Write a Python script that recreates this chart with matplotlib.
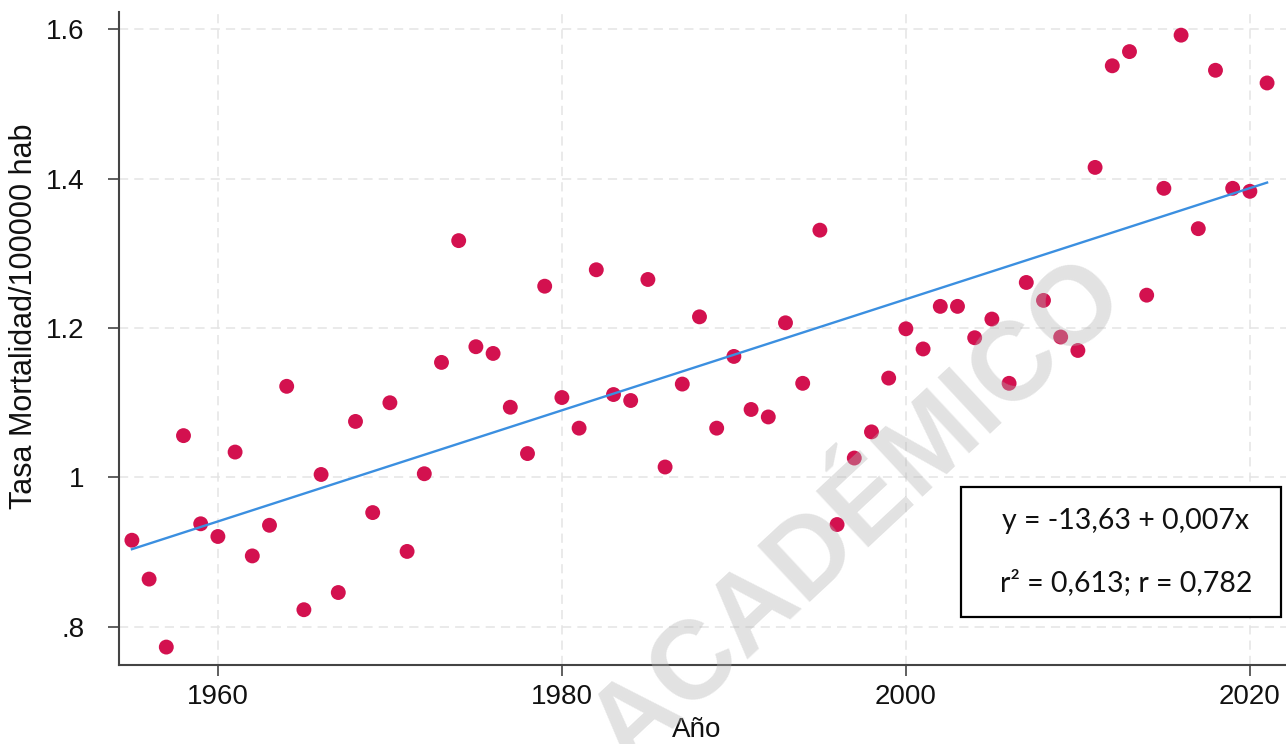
import numpy as np
import matplotlib
matplotlib.use("Agg")
import matplotlib.pyplot as plt
from matplotlib.patches import Rectangle

years = list(range(1955, 2022))
tasa = [0.916, 0.864, 0.773, 1.056, 0.938, 0.921, 1.034, 0.895, 0.936, 1.122,
        0.823, 1.004, 0.846, 1.075, 0.953, 1.100, 0.901, 1.005, 1.154, 1.317,
        1.175, 1.166, 1.094, 1.032, 1.256, 1.107, 1.066, 1.278, 1.111, 1.103,
        1.265, 1.014, 1.125, 1.215, 1.066, 1.162, 1.091, 1.081, 1.207, 1.126,
        1.331, 0.937, 1.026, 1.061, 1.133, 1.199, 1.172, 1.229, 1.229, 1.187,
        1.212, 1.126, 1.261, 1.237, 1.188, 1.170, 1.415, 1.551, 1.570, 1.244,
        1.387, 1.592, 1.333, 1.545, 1.387, 1.383, 1.528]

xticks = [1960, 1980, 2000, 2020]
yticks = [0.8, 1.0, 1.2, 1.4, 1.6]
yticklabels = [".8", "1", "1.2", "1.4", "1.6"]

eq_text = "y = -13,63 + 0,007x"
r_text = "r\u00b2 = 0,613; r = 0,782"

W, H = 1286, 744
fig = plt.figure(figsize=(W / 100, H / 100), dpi=100)
fig.patch.set_facecolor("white")
ax = fig.add_axes([119 / W, (H - 665) / H, (W - 119) / W, (665 - 12) / H])

x = np.array(years, dtype=float)
y = np.array(tasa)
slope, intercept = np.polyfit(x, y, 1)
xl = np.array([x.min(), x.max()])

ax.grid(True, color="#e4e4e4", linestyle=(0, (6, 4)), linewidth=1.1, zorder=0)
ax.scatter(x, y, s=115, color="#d3114f", edgecolors="none", zorder=3)
ax.plot(xl, intercept + slope * xl, color="#3b8fe0", linewidth=1.7, zorder=4)

ax.set_xlim(1954.25, 2022.1)
ax.set_ylim(0.749, 1.623)
ax.set_xticks(xticks)
ax.set_yticks(yticks)
ax.set_yticklabels(yticklabels)

fam = ["Liberation Sans", "DejaVu Sans"]
for s in ["top", "right"]:
    ax.spines[s].set_visible(False)
for s in ["left", "bottom"]:
    ax.spines[s].set_color("#444444")
    ax.spines[s].set_linewidth(1.5)
ax.tick_params(axis="both", colors="#444444", length=8, width=1.2,
               labelcolor="#111111", labelsize=20)
ax.tick_params(axis="y", pad=17)
ax.tick_params(axis="x", pad=6)
for lab in ax.get_xticklabels() + ax.get_yticklabels():
    lab.set_family(fam)

ax.set_xlabel("A\u00f1o", fontsize=20, family=fam, color="#111111")
ax.xaxis.set_label_coords(0.495, -0.080)
ax.xaxis.label.set_va("top")
ax.set_ylabel("Tasa Mortalidad/100000 hab", fontsize=22, family=fam,
              color="#111111", va="center")
ax.yaxis.set_label_coords(-0.0814, 0.534)

# statistics box
fig.patches.append(Rectangle((961 / W, (H - 617) / H), (1281 - 961) / W, 130 / H,
                             transform=fig.transFigure, facecolor="white",
                             edgecolor="black", linewidth=1.6, zorder=5))
fig.text(1126 / W, 1 - 521 / H, eq_text, ha="center", va="center",
         fontsize=20.5, family=["Lato", "DejaVu Sans"], color="#111111", zorder=6)
fig.text(1126 / W, 1 - 583 / H, r_text, ha="center", va="center",
         fontsize=20.5, family=["Lato", "DejaVu Sans"], color="#111111", zorder=6)

# watermark
fig.text(762 / W, 1 - 607 / H, "USO ACAD\u00c9MICO", rotation=43,
         rotation_mode="anchor", ha="center", va="center", fontsize=80,
         fontweight="bold", family=fam, color="#b4b4b4", alpha=0.38, zorder=10)

fig.savefig("out.png", dpi=100)
